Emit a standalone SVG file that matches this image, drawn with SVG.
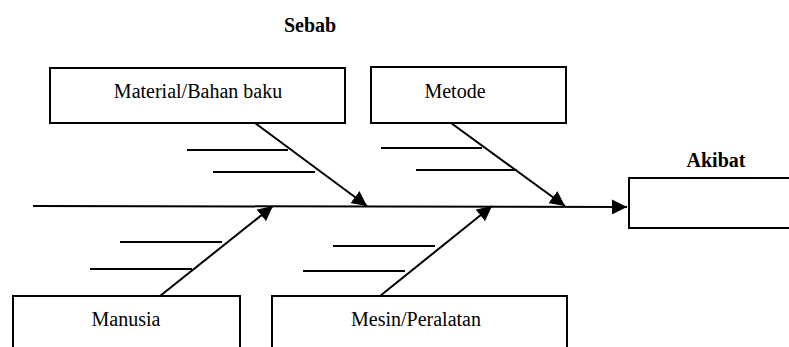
<svg xmlns="http://www.w3.org/2000/svg" width="789" height="347" viewBox="0 0 789 347">
<style>
.box{fill:#fff;stroke:#000;stroke-width:2}
.ln{stroke:#000;stroke-width:2;fill:none}
.t{font-family:'Liberation Serif','Times New Roman','DejaVu Serif',serif;font-size:20px;fill:#000;text-anchor:middle}
.b{font-family:'Liberation Serif','Times New Roman','DejaVu Serif',serif;font-size:20px;font-weight:bold;fill:#000;text-anchor:middle}
</style>
<defs>
<marker id="ah2" viewBox="0 0 10 10" refX="10" refY="5" markerWidth="15" markerHeight="15" markerUnits="userSpaceOnUse" orient="auto">
<path d="M0,0 L10,5 L0,10 Z" fill="#000"/>
</marker>
</defs>
<text class="b" x="310" y="32">Sebab</text>
<text class="b" x="716" y="167">Akibat</text>
<g id="material"><rect class="box" x="50" y="68" width="295" height="55"/><text class="t" x="198" y="98">Material/Bahan baku</text></g>
<g id="metode"><rect class="box" x="371" y="67" width="195" height="56"/><text class="t" x="455" y="98">Metode</text></g>
<g id="akibat"><rect class="box" x="629" y="178" width="180" height="50"/></g>
<g id="manusia"><rect class="box" x="13" y="296" width="227" height="70"/><text class="t" x="126" y="326">Manusia</text></g>
<g id="mesin"><rect class="box" x="272" y="296" width="295" height="70"/><text class="t" x="416" y="326">Mesin/Peralatan</text></g>
<g id="connectors">
<line class="ln" x1="33" y1="206" x2="627" y2="207" marker-end="url(#ah2)"/>
<line class="ln" x1="255" y1="123" x2="367" y2="206" marker-end="url(#ah2)"/>
<line class="ln" x1="451" y1="123" x2="565" y2="206" marker-end="url(#ah2)"/>
<line class="ln" x1="160" y1="296" x2="273" y2="206" marker-end="url(#ah2)"/>
<line class="ln" x1="380" y1="296" x2="492" y2="206" marker-end="url(#ah2)"/>
<line class="ln" x1="187" y1="150" x2="288" y2="150"/>
<line class="ln" x1="213" y1="172" x2="315" y2="172"/>
<line class="ln" x1="381" y1="148" x2="482" y2="148"/>
<line class="ln" x1="416" y1="170" x2="517" y2="170"/>
<line class="ln" x1="120" y1="242" x2="222" y2="242"/>
<line class="ln" x1="90" y1="269" x2="192" y2="269"/>
<line class="ln" x1="333" y1="246" x2="435" y2="246"/>
<line class="ln" x1="303" y1="271" x2="405" y2="271"/>
</g>
</svg>
